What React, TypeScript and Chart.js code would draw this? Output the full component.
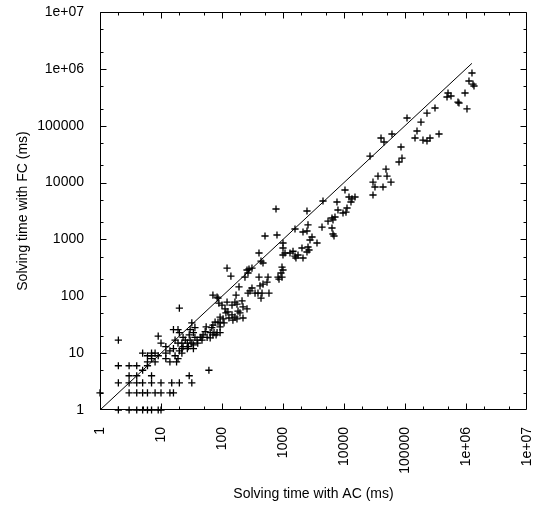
import React, { useEffect, useRef } from "react";
import { Chart, registerables } from "chart.js";

Chart.register(...registerables);

// Solving time with AC (ms) -- x values
const acMs: number[] = [
  // low region
  2, 3, 4, 5, 6, 7, 9, 10,
  1, 3, 4, 5, 6, 8, 10, 14, 16,
  2, 3, 4, 5, 7, 10, 15, 20, 32,
  29, 3, 4, 7,
  2, 3, 4, 5, 6, 6, 7, 8,
  6, 7, 9, 8, 7, 5,
  2, 61, 20,
  // 10 - 100 ms cluster
  55, 53, 49, 47, 57, 74, 80, 64, 64, 71, 83, 93, 44, 47, 40, 39, 36, 34, 32, 36,
  30, 32, 34, 34, 27, 25, 27, 28, 23, 22, 22, 30, 29, 23, 20, 19, 16, 17, 19, 20,
  22, 14, 16, 12, 10, 9, 12, 12, 14, 17, 18, 19,
  // 70 - 260 ms cluster
  71, 83, 89, 100, 121, 146, 163, 176, 213, 170, 112, 125, 221, 257, 197, 183, 146,
  163, 130, 151, 176, 221, 93, 104, 93, 108, 86, 77, 71, 68, 93, 116, 86,
  // 120 - 800 ms
  190, 267, 288, 310, 238, 277, 310, 257, 267, 404, 568, 547, 470, 420, 589, 453,
  389, 348, 436, 404, 436, 470, 507, 797, 768, 121, 140,
  // 800 - 15000 ms
  963, 1000, 927, 963, 828, 860, 1000, 1000, 1079, 1000, 1303, 1459, 1573, 1762,
  1630, 2127, 2047, 2570, 2668, 2473, 1573, 2127, 2473, 2570, 2473, 2988, 2771,
  3609, 4360, 6357, 6600, 6855, 5470, 6357, 7115, 6600, 4526, 7673, 7967, 9630,
  10780, 11200, 10380, 12080, 13020, 15140, 13520,
  // above 25000 ms
  26680, 36070, 29880, 32210, 29880, 48810, 50690, 58920, 43600, 40440, 45280,
  61170, 85980, 89280, 79770, 107900, 229300, 310300, 182800, 157300, 145900,
  197100, 229300, 257000, 360800, 507100, 567700, 488400, 963100, 739100, 767400,
  1038000, 1253000, 1119000, 1352000, 1302000,
];

// Solving time with FC (ms) -- y values
const fcMs: number[] = [
  // low region
  1, 1, 1, 1, 1, 1, 1, 1,
  2, 2, 2, 2, 2, 2, 2, 2, 2,
  3, 3, 3, 3, 3, 3, 3, 3, 3,
  4, 4, 4, 4,
  6, 6, 6, 5, 6, 7, 8, 7,
  9, 9, 9, 10, 10, 10,
  17, 5, 62,
  // 10 - 100 ms cluster
  29, 24, 21, 19, 19, 23, 21, 23, 18.5, 21, 23, 23, 19, 17, 15, 17, 19, 23, 34, 28,
  17, 15, 14, 12, 12, 17, 15, 13, 13, 15, 12, 26, 21, 19, 23, 26, 26, 17, 15, 11,
  10, 11, 12, 13, 15, 20, 10, 8, 7, 9, 7, 8,
  // 70 - 260 ms cluster
  105, 97, 76, 70, 79, 70, 79, 73, 83, 105, 60, 53, 65, 60, 51, 55, 47,
  43, 41.5, 38, 40, 41.5, 43, 40, 34, 34, 35, 35, 31, 28, 29, 51, 93,
  // 120 - 800 ms
  146, 114, 124, 140, 218, 302, 314, 290, 257, 218, 218, 178, 164, 152, 114, 114,
  114, 114, 93, 577, 417, 385, 1148, 1196, 3430, 314, 227,
  // 800 - 15000 ms
  325, 290, 257, 218, 218, 201, 865, 707, 577, 532, 577, 620, 510, 532,
  471, 471, 707, 736, 652, 601, 1525, 1350, 1406, 1800, 3160, 1103, 977,
  865, 1650, 1590, 1245, 1148, 2100, 2380, 2480, 2200, 4740, 4550, 3290, 2915,
  3030, 3570, 7400, 5570, 4550, 5570, 5150,
  // above 25000 ms
  29300, 13000, 10200, 8350, 6040, 17300, 13000, 10200, 8350, 60800, 51700,
  71500, 42200, 27000, 23000, 136600, 167000, 205000, 116000, 80700, 60800,
  56000, 53800, 60800, 71500, 376000, 333000, 320000, 376000, 261000, 251000,
  197000, 845000, 611000, 499000, 541000,
];

// reference line y = x
const diagonalMs: number[] = [1, 1250000];

const tickValues: number[] = [1, 10, 100, 1000, 10000, 100000, 1000000, 10000000];
const tickLabels: string[] = ["1", "10", "100", "1000", "10000", "100000", "1e+06", "1e+07"];
const minorSteps: number[] = [2, 5];

const xTitle = "Solving time with AC (ms)";
const yTitle = "Solving time with FC (ms)";

const FONT = "'Liberation Sans', Arial, Helvetica, sans-serif";

const labelFor = (v: number | string) => {
  const n = Number(v);
  const i = tickValues.findIndex((t) => Math.abs(Math.log10(t) - Math.log10(n)) < 1e-6);
  return i >= 0 ? tickLabels[i] : "";
};

const framePlugin = {
  id: "frameTicks",
  afterDatasetsDraw(chart: any) {
    const { ctx, chartArea, scales } = chart;
    const { left, right, top, bottom } = chartArea;
    const xs = scales.x;
    const ys = scales.y;
    ctx.save();
    ctx.strokeStyle = "#000";
    ctx.lineWidth = 1;
    const L = Math.round(left) + 0.5;
    const R = Math.round(right) - 0.5;
    const T = Math.round(top) + 0.5;
    const B = Math.round(bottom) - 0.5;
    ctx.beginPath();
    ctx.rect(L, T, R - L, B - T);
    ctx.stroke();
    const drawX = (v: number, len: number) => {
      const p = Math.round(xs.getPixelForValue(v)) + 0.5;
      if (p < L - 0.1 || p > R + 0.1) return;
      ctx.moveTo(p, B);
      ctx.lineTo(p, B - len);
      ctx.moveTo(p, T);
      ctx.lineTo(p, T + len);
    };
    const drawY = (v: number, len: number) => {
      const p = Math.round(ys.getPixelForValue(v)) + 0.5;
      if (p < T - 0.1 || p > B + 0.1) return;
      ctx.moveTo(L, p);
      ctx.lineTo(L + len, p);
      ctx.moveTo(R, p);
      ctx.lineTo(R - len, p);
    };
    ctx.beginPath();
    tickValues.forEach((t, i) => {
      drawX(t, 6);
      drawY(t, 6);
      if (i < tickValues.length - 1) {
        minorSteps.forEach((m) => {
          drawX(t * m, 3);
          drawY(t * m, 3);
        });
      }
    });
    ctx.stroke();
    ctx.restore();
  },
};

export default function App() {
  const ref = useRef<HTMLCanvasElement | null>(null);

  useEffect(() => {
    if (!ref.current) return;
    const points = acMs.map((x, i) => ({ x, y: fcMs[i] }));
    const diag = diagonalMs.map((v) => ({ x: v, y: v }));
    const chart = new Chart(ref.current, {
      type: "scatter",
      data: {
        datasets: [
          {
            type: "line",
            data: diag,
            borderColor: "#000",
            borderWidth: 1,
            pointRadius: 0,
            showLine: true,
            fill: false,
          } as any,
          {
            data: points,
            pointStyle: "cross",
            pointRadius: 3.6,
            pointBorderWidth: 1.3,
            borderColor: "#000",
            backgroundColor: "#000",
            clip: false,
          } as any,
        ],
      },
      options: {
        responsive: false,
        animation: false,
        events: [],
        layout: { padding: { top: 12, right: 17, left: 0, bottom: 0 } },
        plugins: { legend: { display: false }, tooltip: { enabled: false } },
        scales: {
          x: {
            type: "logarithmic",
            min: 1,
            max: 10000000,
            position: "bottom",
            grid: { display: false },
            border: { display: false },
            afterBuildTicks: (s: any) => {
              s.ticks = tickValues.map((v) => ({ value: v }));
            },
            afterFit: (s: any) => {
              s.height = 96;
              s.paddingLeft = 0;
              s.paddingRight = 0;
            },
            ticks: {
              autoSkip: false,
              minRotation: 90,
              maxRotation: 90,
              padding: 9,
              color: "#000",
              font: { family: FONT, size: 14 },
              callback: (v: any) => labelFor(v),
            },
            title: {
              display: true,
              text: xTitle,
              color: "#000",
              font: { family: FONT, size: 14 },
              padding: { top: 0, bottom: 3 },
            },
          },
          y: {
            type: "logarithmic",
            min: 1,
            max: 10000000,
            position: "left",
            grid: { display: false },
            border: { display: false },
            afterBuildTicks: (s: any) => {
              s.ticks = tickValues.map((v) => ({ value: v }));
            },
            afterFit: (s: any) => {
              s.width = 100;
              s.paddingTop = 0;
              s.paddingBottom = 0;
            },
            ticks: {
              autoSkip: false,
              padding: 8,
              color: "#000",
              font: { family: FONT, size: 14 },
              callback: (v: any) => labelFor(v),
            },
            title: {
              display: true,
              text: yTitle,
              color: "#000",
              font: { family: FONT, size: 14 },
              padding: { top: 15, bottom: 0 },
            },
          },
        },
      },
      plugins: [framePlugin],
    });
    return () => chart.destroy();
  }, []);

  return (
    <div style={{ position: "absolute", left: 0, top: 0, width: 544, height: 506, background: "#fff" }}>
      <canvas ref={ref} width={544} height={506} style={{ display: "block" }} />
    </div>
  );
}
